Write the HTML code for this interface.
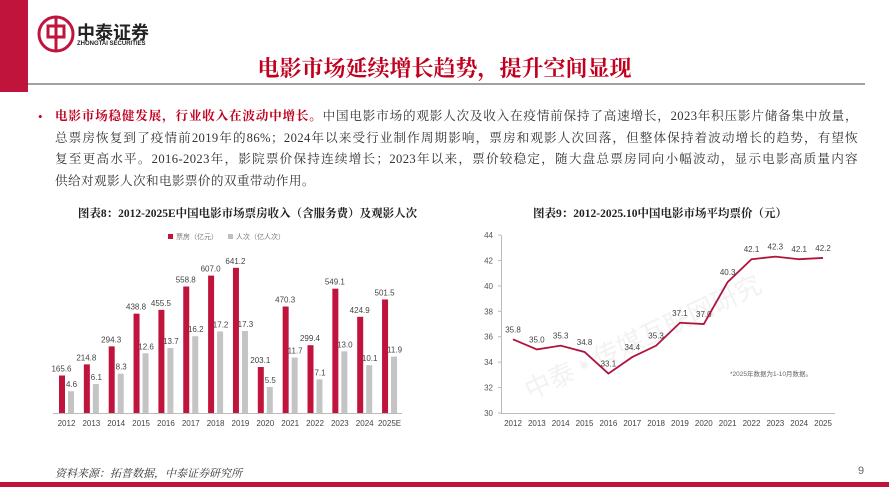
<!DOCTYPE html>
<html><head><meta charset="utf-8">
<style>
body{margin:0;width:889px;height:500px;background:#fff;overflow:hidden;position:relative;font-family:"Liberation Serif","Noto Serif CJK SC",serif;}
.abs{position:absolute;}
.bt{position:absolute;left:55px;width:803px;font-size:12.6px;letter-spacing:0.4px;line-height:21.5px;color:#333;top:106px;}
.bt div{white-space:nowrap;text-align:justify;text-align-last:justify;}
.bt div.l{text-align-last:left;}
</style></head><body>
<div class="abs" style="left:0;top:0;width:28px;height:92px;background:#c0143c"></div>
<svg class="abs" style="left:0;top:0" width="889" height="500">
  <circle cx="56" cy="34" r="17" fill="none" stroke="#c0143c" stroke-width="3"/>
  <rect x="48" y="26" width="16" height="11" fill="none" stroke="#c0143c" stroke-width="3"/>
  <line x1="56" y1="18" x2="56" y2="50" stroke="#c0143c" stroke-width="3"/>
  <line x1="25" y1="84" x2="865" y2="84" stroke="#444" stroke-width="1"/>
  <rect x="0" y="482" width="889" height="5" fill="#c0143c"/>
</svg>
<div class="abs" style="left:77px;top:19px;font-size:18px;font-weight:bold;color:#222;font-family:'Liberation Sans','Noto Sans CJK SC',sans-serif">中泰证券</div>
<div class="abs" style="left:77px;top:41px;font-size:6px;font-weight:bold;color:#222;font-family:'Liberation Sans',sans-serif">ZHONGTAI SECURITIES</div>
<div class="abs" style="left:0;width:889px;top:52px;text-align:center;font-size:22px;font-weight:bold;color:#c0001e;font-family:'Noto Serif CJK SC',serif">电影市场延续增长趋势，提升空间显现</div>
<div class="abs" style="left:38px;top:106px;font-size:13px;line-height:21.5px;color:#c0001e">•</div>
<div class="bt">
<div><span style="color:#c0001e;font-weight:bold">电影市场稳健发展，行业收入在波动中增长。</span>中国电影市场的观影人次及收入在疫情前保持了高速增长，2023年积压影片储备集中放量，</div>
<div>总票房恢复到了疫情前2019年的86%；2024年以来受行业制作周期影响，票房和观影人次回落，但整体保持着波动增长的趋势，有望恢</div>
<div>复至更高水平。2016-2023年，影院票价保持连续增长；2023年以来，票价较稳定，随大盘总票房同向小幅波动，显示电影高质量内容</div>
<div class="l">供给对观影人次和电影票价的双重带动作用。</div>
</div>
<div class="abs" style="left:40px;width:415px;top:205px;text-align:center;font-size:11.5px;font-weight:bold;color:#222">图表8：2012-2025E中国电影市场票房收入（含服务费）及观影人次</div>
<div class="abs" style="left:460px;width:400px;top:205px;text-align:center;font-size:11.5px;font-weight:bold;color:#222">图表9：2012-2025.10中国电影市场平均票价（元）</div>
<div class="abs" style="left:55px;top:465px;font-size:11px;font-style:italic;color:#333">资料来源：拓普数据，中泰证券研究所</div>
<div class="abs" style="left:858px;top:465px;font-size:11px;color:#666;font-family:'Liberation Sans',sans-serif">9</div>
<svg id="c" class="abs" style="left:0;top:0" width="889" height="500" font-family="Liberation Sans, Noto Sans CJK SC, sans-serif"></svg>
<script>
var s='';
var rv=[165.6,214.8,294.3,438.8,455.5,558.8,607.0,641.2,203.1,470.3,299.4,549.1,424.9,501.5];
var gv=[4.6,6.1,8.3,12.6,13.7,16.2,17.2,17.3,5.5,11.7,7.1,13.0,10.1,11.9];
var yr=['2012','2013','2014','2015','2016','2017','2018','2019','2020','2021','2022','2023','2024','2025E'];
s+='<rect x="168" y="234" width="5" height="5" fill="#c0143c"/><text x="176" y="239" font-size="7" fill="#777">票房（亿元）</text>';
s+='<rect x="228" y="234" width="5" height="5" fill="#bfbfbf"/><text x="236" y="239" font-size="7" fill="#777">人次（亿人次）</text>';
for(var i=0;i<14;i++){var c=66.5+i*24.85;var rh=rv[i]*0.2264,gh=gv[i]*4.74;
s+='<rect x="'+(c-7.5)+'" y="'+(413-rh)+'" width="6" height="'+rh+'" fill="#c0143c"/>';
s+='<rect x="'+(c+1.5)+'" y="'+(413-gh)+'" width="6" height="'+gh+'" fill="#c4c4c4"/>';
s+='<text x="'+(c-5)+'" y="'+(413-rh-4)+'" font-size="8" fill="#444" text-anchor="middle">'+rv[i].toFixed(1)+'</text>';
s+='<text x="'+(c+5)+'" y="'+(413-gh-4)+'" font-size="8" fill="#444" text-anchor="middle">'+gv[i].toFixed(1)+'</text>';
s+='<text x="'+c+'" y="426" font-size="8" fill="#444" text-anchor="middle">'+yr[i]+'</text>';}
s+='<line x1="53" y1="413.5" x2="402" y2="413.5" stroke="#bbb"/>';
var pv=[35.8,35.0,35.3,34.8,33.1,34.4,35.3,37.1,37.0,40.3,42.1,42.3,42.1,42.2];
s+='<text x="530" y="400" font-size="26" fill="#f2f2f2" transform="rotate(-25 530 400)">中泰 • 传媒互联网研究</text>';
s+='<line x1="501.5" y1="235" x2="501.5" y2="413" stroke="#bbb"/><line x1="501" y1="413.5" x2="835" y2="413.5" stroke="#bbb"/>';
for(var v=30;v<=44;v+=2){var y=413-(v-30)*12.71;s+='<line x1="498" y1="'+y+'" x2="501" y2="'+y+'" stroke="#bbb"/><text x="493" y="'+(y+3)+'" font-size="8" fill="#555" text-anchor="end">'+v+'</text>';}
var pts=[];
for(var i=0;i<14;i++){var x=513+i*23.85,y=413-(pv[i]-30)*12.71;pts.push(x+','+y);
s+='<text x="'+x+'" y="'+(y-7)+'" font-size="8" fill="#444" text-anchor="middle">'+pv[i].toFixed(1)+'</text>';
s+='<text x="'+x+'" y="426" font-size="8" fill="#444" text-anchor="middle">'+(2012+i)+'</text>';}
s+='<polyline points="'+pts.join(' ')+'" fill="none" stroke="#b0143c" stroke-width="1.8"/>';
s+='<text x="730" y="376" font-size="6.5" fill="#666">*2025年数据为1-10月数据。</text>';
document.getElementById('c').innerHTML=s;
</script>
</body></html>
